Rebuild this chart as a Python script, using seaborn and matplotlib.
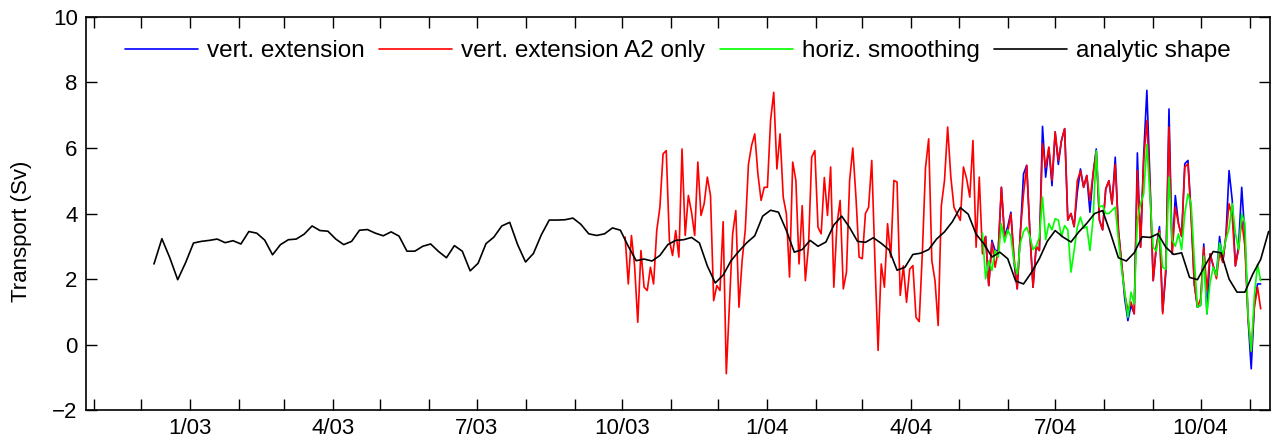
import pandas as pd
import matplotlib
matplotlib.use("Agg")
import matplotlib.pyplot as plt
import matplotlib.dates as mdates
import seaborn as sns

# analytic shape, every 5 days from 9 Dec 2002
black_start = "2002-12-09"
black_vals = [
    2.46, 3.23, 2.65, 1.98, 2.50, 3.10, 3.15, 3.18, 3.22, 3.11,
    3.17, 3.07, 3.45, 3.40, 3.19, 2.74, 3.05, 3.20, 3.22, 3.37,
    3.62, 3.48, 3.46, 3.22, 3.05, 3.15, 3.49, 3.51, 3.40, 3.32,
    3.44, 3.31, 2.85, 2.85, 3.00, 3.07, 2.84, 2.65, 3.02, 2.85,
    2.25, 2.48, 3.08, 3.28, 3.62, 3.73, 3.05, 2.52, 2.78, 3.35,
    3.80, 3.80, 3.81, 3.86, 3.67, 3.38, 3.33, 3.38, 3.56, 3.49,
    3.00, 2.56, 2.61, 2.55, 2.72, 3.05, 3.18, 3.20, 3.27, 3.10,
    2.40, 1.88, 2.12, 2.56, 2.85, 3.11, 3.32, 3.92, 4.10, 4.04,
    3.48, 2.82, 2.90, 3.18, 3.00, 3.13, 3.65, 3.92, 3.57, 3.15,
    3.12, 3.26, 3.09, 2.89, 2.27, 2.36, 2.75, 2.79, 2.90, 3.22,
    3.44, 3.75, 4.18, 3.98, 3.37, 3.07, 2.67, 2.82, 2.62, 1.94,
    1.85, 2.20, 2.62, 3.15, 3.48, 3.28, 3.13, 3.44, 3.70, 4.00,
    4.09, 3.40, 2.65, 2.55, 2.80, 3.29, 3.27, 3.38, 2.97, 2.75,
    2.80, 2.05, 1.98, 2.43, 2.84, 2.80, 2.00, 1.60, 1.60, 2.15,
    2.60, 3.45,
]

# vert. extension A2 only, every 2 days from 3 Oct 2003
red_start = "2003-10-03"
red_vals = [
    3.28, 1.85, 3.33, 2.40, 0.68, 2.87, 1.75, 1.65, 2.36, 1.85,
    3.48, 4.19, 5.82, 5.92, 3.18, 2.72, 3.48, 2.67, 5.97, 3.33,
    4.55, 4.04, 3.33, 5.57, 3.94, 4.30, 5.11, 4.55, 1.34, 1.80,
    1.65, 3.75, -0.89, 1.24, 3.38, 4.09, 1.14, 2.56, 3.50, 5.50,
    6.08, 6.43, 5.20, 4.40, 4.80, 4.80, 6.84, 7.70, 5.36, 6.43,
    4.50, 3.99, 2.06, 5.57, 5.01, 2.46, 4.24, 1.95, 3.02, 5.72,
    5.92, 3.58, 3.38, 5.10, 3.94, 5.42, 1.75, 3.69, 4.40, 1.70,
    2.21, 5.01, 6.00, 4.50, 2.67, 2.62, 4.00, 4.19, 5.62, 2.56,
    -0.18, 2.46, 1.75, 3.69, 2.67, 5.01, 4.96, 1.50, 2.40, 1.29,
    2.30, 2.41, 0.83, 0.70, 2.80, 5.40, 6.28, 2.56, 1.95, 0.58,
    4.24, 5.00, 6.64, 5.12, 4.19, 3.99, 3.79, 5.42, 5.06, 4.50,
    6.23, 2.97, 5.11, 2.77, 3.30, 1.80, 3.12, 2.36, 2.87, 4.80,
    3.30, 3.43, 3.99, 2.67, 1.70, 3.43, 4.60, 5.47, 3.43, 1.75,
    3.00, 2.87, 6.13, 5.40, 6.03, 5.01, 6.49, 5.62, 6.23, 6.59,
    3.80, 4.00, 3.60, 5.00, 5.30, 4.80, 5.16, 4.40, 5.21, 5.90,
    3.80, 3.50, 4.75, 5.00, 4.29, 5.50, 3.50, 2.50, 1.55, 1.04,
    1.30, 0.94, 5.31, 2.97, 5.62, 6.84, 4.80, 1.95, 3.00, 3.48,
    0.94, 2.36, 6.64, 2.77, 4.19, 3.69, 3.30, 5.42, 5.52, 3.90,
    1.85, 1.14, 1.40, 2.97, 1.65, 2.77, 2.40, 2.01, 2.80, 2.51,
    3.30, 4.30, 3.90, 2.40, 2.90, 3.79, 3.00, 0.80, -0.20, 1.14,
    1.75, 1.09,
]

# vert. extension and horiz. smoothing, every 2 days from 16 May 2004
bg_start = "2004-05-16"
blue_vals = [
    3.00, 3.30, 1.80, 3.18, 2.87, 2.87, 4.80,
    3.30, 3.60, 4.04, 2.50, 1.70, 3.43, 5.21, 5.47, 3.43, 1.75,
    3.00, 2.87, 6.66, 5.11, 6.00, 4.85, 6.49, 5.50, 6.23, 6.59,
    3.80, 4.00, 3.60, 4.65, 5.36, 4.80, 5.16, 4.04, 5.21, 5.97,
    3.80, 3.50, 4.75, 5.00, 4.29, 5.72, 3.50, 2.50, 1.40, 0.73,
    1.20, 0.94, 5.85, 2.97, 5.80, 7.76, 5.00, 1.95, 3.00, 3.60,
    1.00, 2.18, 7.19, 2.77, 4.55, 3.69, 3.30, 5.52, 5.62, 4.00,
    1.85, 1.14, 1.20, 3.07, 0.94, 2.77, 2.40, 2.10, 3.30, 2.51,
    3.30, 5.31, 4.40, 2.40, 3.00, 4.80, 3.30, 0.80, -0.74, 1.20,
    1.85, 1.85,
]
green_vals = [
    3.40, 2.01, 2.56, 2.26, 2.87, 2.67, 3.69,
    3.12, 3.50, 3.30, 2.50, 2.16, 3.10, 3.45, 3.58, 3.30, 2.90,
    3.00, 3.28, 4.50, 3.20, 3.69, 3.50, 3.84, 3.80, 3.30, 3.63,
    3.50, 2.21, 2.87, 3.58, 3.89, 3.55, 3.60, 2.87, 3.84, 5.92,
    4.20, 4.24, 4.00, 4.00, 4.10, 4.19, 3.20, 2.30, 1.60, 0.83,
    1.60, 1.24, 3.80, 4.30, 4.60, 6.10, 4.50, 2.97, 2.85, 3.40,
    2.36, 2.30, 5.11, 3.20, 3.00, 3.38, 2.90, 4.00, 4.60, 4.30,
    2.60, 1.14, 1.20, 2.70, 0.94, 1.90, 2.36, 2.10, 3.10, 2.75,
    3.20, 3.55, 4.30, 3.40, 2.90, 3.99, 3.70, 0.90, -0.20, 1.50,
    2.45, 1.95,
]

labels = ["vert. extension", "vert. extension A2 only", "horiz. smoothing", "analytic shape"]
colors = ["#0000ff", "#ff0000", "#00ff00", "#000000"]
tick_months = ["2003-01-01", "2003-04-01", "2003-07-01", "2003-10-01",
               "2004-01-01", "2004-04-01", "2004-07-01", "2004-10-01"]
tick_labels = ["1/03", "4/03", "7/03", "10/03", "1/04", "4/04", "7/04", "10/04"]


def series(start, step, vals):
    return pd.DataFrame({"date": pd.date_range(start, periods=len(vals), freq=step),
                         "Sv": vals})


blue_df = series(bg_start, "2D", blue_vals)
red_df = series(red_start, "2D", red_vals)
green_df = series(bg_start, "2D", green_vals)
black_df = series(black_start, "5D", black_vals)

sns.set_style("ticks", {"axes.edgecolor": "black", "xtick.color": "black",
                        "ytick.color": "black", "text.color": "black",
                        "axes.labelcolor": "black"})
plt.rcParams["font.family"] = ["Liberation Sans", "DejaVu Sans"]

fig = plt.figure(figsize=(12.74, 4.4), dpi=100)
ax = fig.add_axes([0.0675, 0.068, 0.9295, 0.8935])

for df, lab, col in zip([blue_df, red_df, green_df, black_df], labels, colors):
    sns.lineplot(data=df, x="date", y="Sv", ax=ax, color=col, lw=1.2, label=lab)

ax.set_xlim(pd.Timestamp("2002-10-27"), pd.Timestamp("2004-11-14"))
ax.set_ylim(-2, 10)
ax.set_yticks(range(-2, 11, 2))
ax.set_yticklabels(["\u22122", "0", "2", "4", "6", "8", "10"])
ax.set_xticks([pd.Timestamp(t) for t in tick_months])
ax.set_xticklabels(tick_labels)
ax.xaxis.set_minor_locator(mdates.MonthLocator())
ax.set_xlabel("")
ax.set_ylabel("Transport (Sv)", fontsize=16)
ax.yaxis.set_label_coords(-0.046, 0.455)

ax.tick_params(which="both", direction="in", top=True, right=True,
               length=8, width=1.0, labelsize=16)
ax.tick_params(axis="x", pad=6)
ax.tick_params(axis="y", pad=6)
for s in ax.spines.values():
    s.set_linewidth(1.2)

ax.legend(loc="upper center", ncol=4, frameon=False, fontsize=17.5,
          handlelength=3.0, handletextpad=0.37, columnspacing=0.6,
          bbox_to_anchor=(0.5, 1.0), borderaxespad=0.55)

fig.savefig("out.png", dpi=100)
